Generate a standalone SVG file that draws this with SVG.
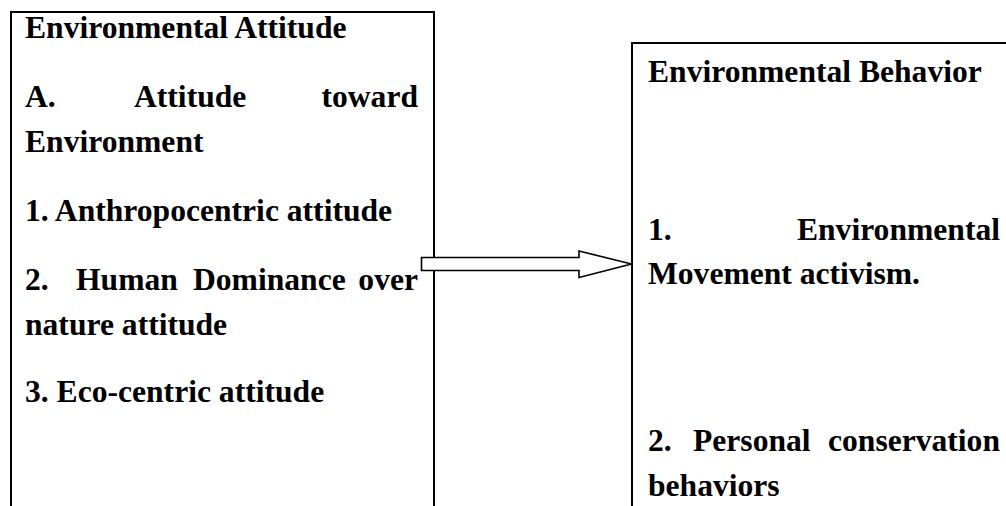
<svg xmlns="http://www.w3.org/2000/svg" width="1006" height="506" viewBox="0 0 1006 506">
<style>
.t{font-family:"Liberation Serif","Times New Roman",serif;font-weight:bold;font-size:31.6px;fill:#000}
.box{fill:none;stroke:#000;stroke-width:2}
.arrow{fill:#fff;stroke:#000;stroke-width:1.6;stroke-linejoin:miter}
</style>
<rect width="1006" height="506" fill="#fff"/>
<g id="node-attitude">
<path class="box" d="M11,507 V12 H434 V507"/>
<text class="t" x="25" y="38">Environmental Attitude</text>
<text class="t" y="107"><tspan x="25">A.</tspan><tspan x="134">Attitude</tspan><tspan x="418" text-anchor="end">toward</tspan></text>
<text class="t" x="25" y="152">Environment</text>
<text class="t" x="25" y="221">1. Anthropocentric attitude</text>
<text class="t" y="290"><tspan x="25">2.</tspan><tspan x="76">Human</tspan><tspan x="193">Dominance</tspan><tspan x="418" text-anchor="end">over</tspan></text>
<text class="t" x="25" y="335">nature attitude</text>
<text class="t" x="25" y="402">3. Eco-centric attitude</text>
</g>
<g id="node-behavior">
<path class="box" d="M632,507 V43 H1007"/>
<text class="t" x="648" y="82">Environmental Behavior</text>
<text class="t" y="240"><tspan x="648">1.</tspan><tspan x="1000" text-anchor="end">Environmental</tspan></text>
<text class="t" x="648" y="284">Movement activism.</text>
<text class="t" y="451"><tspan x="648">2.</tspan><tspan x="693">Personal</tspan><tspan x="1000" text-anchor="end">conservation</tspan></text>
<text class="t" x="648" y="496">behaviors</text>
</g>
<g id="connectors">
<polygon class="arrow" points="421.5,257.5 579,257.5 579,251 631.5,264 579,277.5 579,270.5 421.5,270.5"/>
</g>
</svg>
